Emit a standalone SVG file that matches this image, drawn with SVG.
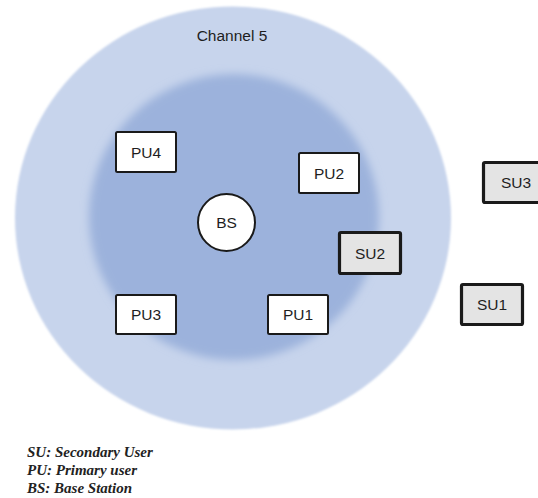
<svg xmlns="http://www.w3.org/2000/svg" width="538" height="498" viewBox="0 0 538 498">
<defs>
<filter id="soft" x="-10%" y="-10%" width="120%" height="120%"><feGaussianBlur stdDeviation="1.2"/></filter>
<filter id="softer" x="-20%" y="-20%" width="140%" height="140%"><feGaussianBlur stdDeviation="4.5"/></filter>
</defs>
<style>
.pu{fill:#ffffff;stroke:#1a1a1a;stroke-width:2}
.su{fill:#e4e4e4;stroke:#1a1a1a;stroke-width:3.2}
.lbl{font-family:"Liberation Sans",Arial,sans-serif;font-size:15.5px;fill:#1e1e1e;text-anchor:middle}
.leg{font-family:"Liberation Serif","Times New Roman",serif;font-size:15px;font-style:italic;font-weight:bold;fill:#222}
</style>
<rect width="538" height="498" fill="#ffffff"/>
<g id="channel5">
<ellipse cx="233" cy="218" rx="218" ry="211.5" fill="#c7d4ec" filter="url(#soft)"/>
<ellipse cx="234" cy="217" rx="145" ry="143" fill="#9cb2dc" filter="url(#softer)"/>
<text class="lbl" x="232" y="41">Channel 5</text>
</g>
<g id="connectors"/>
<g id="PU4"><rect class="pu" x="116" y="132" width="60" height="40" rx="1.5"/><text class="lbl" x="146" y="157.5">PU4</text></g>
<g id="PU2"><rect class="pu" x="299" y="153" width="60" height="40" rx="1.5"/><text class="lbl" x="329" y="178.5">PU2</text></g>
<g id="BS"><circle cx="226.5" cy="222.5" r="28.5" fill="#ffffff" stroke="#1a1a1a" stroke-width="2"/><text class="lbl" x="226.5" y="228">BS</text></g>
<g id="SU2"><rect class="su" x="339.5" y="232.5" width="61" height="41" rx="1.5"/><text class="lbl" x="370" y="258.5">SU2</text></g>
<g id="SU3"><rect class="su" x="483.5" y="162.5" width="62" height="40" rx="1.5"/><text class="lbl" x="516" y="188">SU3</text></g>
<g id="SU1"><rect class="su" x="461.5" y="284.5" width="61" height="40" rx="1.5"/><text class="lbl" x="492" y="310">SU1</text></g>
<g id="PU3"><rect class="pu" x="116" y="295" width="60" height="39" rx="1.5"/><text class="lbl" x="146" y="320">PU3</text></g>
<g id="PU1"><rect class="pu" x="268" y="295" width="60" height="39" rx="1.5"/><text class="lbl" x="298" y="320">PU1</text></g>
<g id="legend">
<text class="leg" x="27" y="457">SU: Secondary User</text>
<text class="leg" x="27" y="475">PU: Primary user</text>
<text class="leg" x="27" y="493">BS: Base Station</text>
</g>
</svg>
